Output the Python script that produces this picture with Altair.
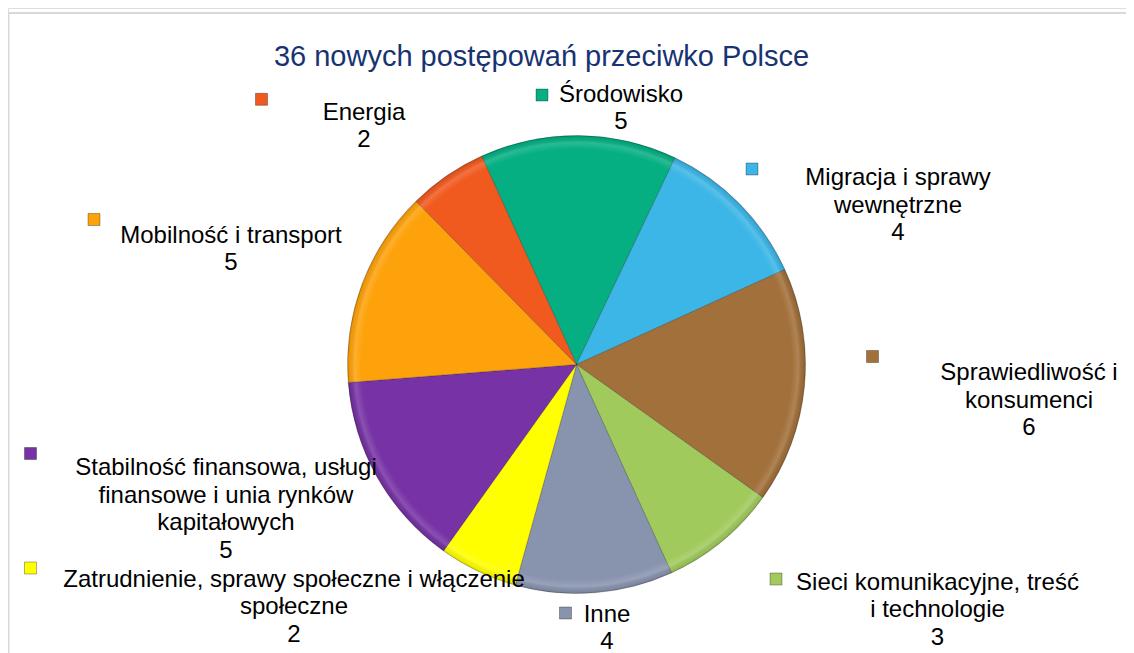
import math
import altair as alt
import pandas as pd

# ---- data (clockwise from the first slice) ----
categories = [
    "Środowisko",
    "Migracja i sprawy wewnętrzne",
    "Sprawiedliwość i konsumenci",
    "Sieci komunikacyjne, treść i technologie",
    "Inne",
    "Zatrudnienie, sprawy społeczne i włączenie społeczne",
    "Stabilność finansowa, usługi finansowe i unia rynków kapitałowych",
    "Mobilność i transport",
    "Energia",
]
values = [5, 4, 6, 3, 4, 2, 5, 5, 2]
wrapped_names = [
    "Środowisko",
    "Migracja i sprawy\nwewnętrzne",
    "Sprawiedliwość i\nkonsumenci",
    "Sieci komunikacyjne, treść\ni technologie",
    "Inne",
    "Zatrudnienie, sprawy społeczne i włączenie\nspołeczne",
    "Stabilność finansowa, usługi\nfinansowe i unia rynków\nkapitałowych",
    "Mobilność i transport",
    "Energia",
]
title_text = "36 nowych postępowań przeciwko Polsce"

# ---- styles / layout (kept apart from the data) ----
colors = ["#05AF82", "#3CB6E7", "#A2703A", "#A0CA5C", "#8893AE",
          "#FFFF00", "#7733A5", "#FEA20B", "#F15A1F"]
# manual label placement (view pixels): text centre x / first baseline y, marker centre
label_pos = [(613, 93.5), (890, 177), (1021, 372), (929.5, 581.5), (599, 613.5),
             (286, 578.5), (218, 467), (223, 234.5), (356, 111.5)]
marker_pos = [(534, 87), (744, 161), (864.5, 348.5), (768, 571), (557.5, 605),
              (22.5, 560), (22.5, 445.5), (86, 211.5), (253.5, 91.3)]

W, H = 1118, 645
CX, CY, R = 568.5, 356.5, 229
start = math.radians(335.5)
FONT = "Liberation Sans"

df = pd.DataFrame({
    "idx": list(range(len(categories))),
    "category": categories,
    "value": values,
    "label": [f"{n}\n{v}" for n, v in zip(wrapped_names, values)],
    "lx": [p[0] for p in label_pos],
    "ly": [p[1] for p in label_pos],
    "mx": [p[0] for p in marker_pos],
    "my": [p[1] for p in marker_pos],
})

color_scale = alt.Scale(domain=categories, range=colors)

frame = alt.Chart(pd.DataFrame({"a": [0]})).mark_rect(
    fill=None, stroke="#D9D9D9", strokeWidth=2
).encode(x=alt.value(0.5), y=alt.value(5), x2=alt.value(1300), y2=alt.value(900))

pie = alt.Chart(df).mark_arc(
    radius=R, stroke="#000000", strokeOpacity=0.22, strokeWidth=1
).encode(
    theta=alt.Theta("value:Q", stack=True,
                    scale=alt.Scale(range=[start, start + 2 * math.pi])),
    color=alt.Color("category:N", scale=color_scale, legend=None),
    order=alt.Order("idx:Q"),
    x=alt.value(CX),
    y=alt.value(CY),
)

bevel = alt.Chart(pd.DataFrame({"a": [0]})).mark_arc(
    radius=R, theta=0, theta2=2 * math.pi,
    fill=alt.Gradient(
        gradient="radial",
        stops=[
            alt.GradientStop(offset=0, color="rgba(255,255,255,0)"),
            alt.GradientStop(offset=0.94, color="rgba(255,255,255,0)"),
            alt.GradientStop(offset=0.97, color="rgba(255,255,255,0.15)"),
            alt.GradientStop(offset=0.99, color="rgba(0,0,0,0.05)"),
            alt.GradientStop(offset=1, color="rgba(0,0,0,0.18)"),
        ],
    ),
).encode(x=alt.value(CX), y=alt.value(CY))

markers = alt.Chart(df).mark_square(
    size=144, opacity=1, stroke="#000000", strokeOpacity=0.3, strokeWidth=1
).encode(
    x=alt.X("mx:Q", scale=None),
    y=alt.Y("my:Q", scale=None),
    color=alt.Color("category:N", scale=color_scale, legend=None),
)

labels = alt.Chart(df).mark_text(
    font=FONT, fontSize=24, lineHeight=27.7, lineBreak="\n",
    align="center", baseline="alphabetic", color="#000000"
).encode(
    x=alt.X("lx:Q", scale=None),
    y=alt.Y("ly:Q", scale=None),
    text="label:N",
)

title = alt.Chart(pd.DataFrame({"t": [title_text]})).mark_text(
    font=FONT, fontSize=29, align="center", baseline="alphabetic", color="#173372"
).encode(x=alt.value(533.5), y=alt.value(57.7), text="t:N")

chart = alt.layer(frame, pie, bevel, markers, labels, title).properties(
    width=W, height=H, padding=0, autosize=alt.AutoSizeParams(type="none")
).configure_view(stroke=None).configure(background="#FFFFFF")

chart.save("out.html", embed_options={"renderer": "svg", "actions": False})
